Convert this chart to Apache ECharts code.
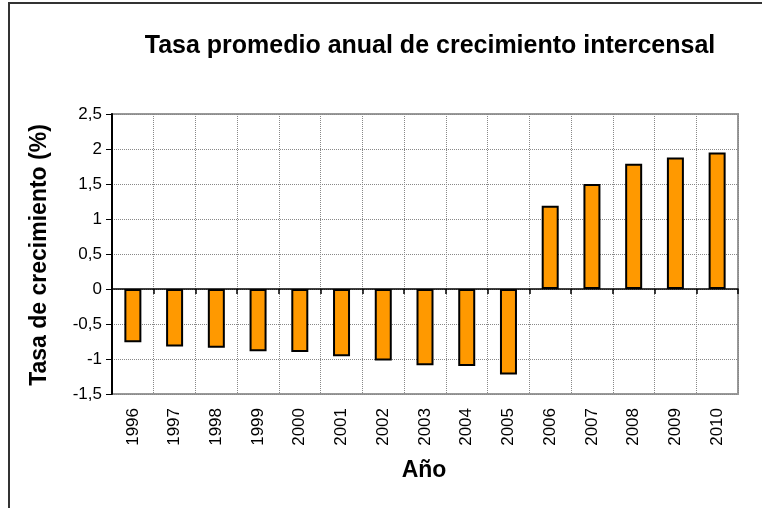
<!DOCTYPE html>
<html>
<head>
<meta charset="utf-8">
<script src="https://cdn.jsdelivr.net/npm/echarts@6/dist/echarts.min.js"></script>
<style>
html,body{margin:0;padding:0;background:#fff;}
#c{width:762px;height:508px;}
</style>
</head>
<body>
<div id="c"></div>
<script>
const categories = ['1996','1997','1998','1999','2000','2001','2002','2003','2004','2005','2006','2007','2008','2009','2010'];
const values = [-0.76,-0.82,-0.84,-0.89,-0.90,-0.96,-1.02,-1.09,-1.10,-1.22,1.19,1.50,1.79,1.88,1.95];
const yMin = -1.5, yMax = 2.5, yStep = 0.5;
const titleText = 'Tasa promedio anual de crecimiento intercensal';
const yTitle = 'Tasa de crecimiento (%)';
const xTitle = 'Año';

const FONT = '"Liberation Sans", Arial, sans-serif';
const chart = echarts.init(document.getElementById('c'), null, {renderer:'canvas'});
chart.setOption({
  animation:false,
  backgroundColor:'#fff',
  title:{
    text:titleText, left:425, top:29, textAlign:'center',
    textStyle:{fontFamily:FONT, fontSize:25, fontWeight:'bold', color:'#000'}
  },
  graphic:[
    {type:'rect', shape:{x:9, y:3, width:800, height:600}, style:{fill:null, stroke:'#333', lineWidth:2}, silent:true, z:-1},
    {type:'text', x:40, y:255, rotation:Math.PI/2, style:{text:yTitle, font:'bold 23px '+FONT, fill:'#000', align:'center', verticalAlign:'middle'}, silent:true},
    {type:'text', x:424, y:471, style:{text:xTitle, font:'bold 23px '+FONT, fill:'#000', align:'center', verticalAlign:'middle'}, silent:true}
  ],
  grid:{left:112, right:24, top:114, bottom:114, show:true, borderColor:'#999', borderWidth:2, backgroundColor:'transparent'},
  xAxis:[{
    type:'category', data:categories, position:'bottom',
    axisLine:{show:true, onZero:true, lineStyle:{color:'#000', width:1.5}},
    axisTick:{show:true, length:5, inside:false, alignWithLabel:false, lineStyle:{color:'#000', width:1.5}},
    axisLabel:{show:false},
    splitLine:{show:true, lineStyle:{color:'#888', type:'dotted', width:1}}
  },{
    type:'category', data:categories, position:'bottom',
    axisLine:{show:false, onZero:false},
    axisTick:{show:false},
    splitLine:{show:false},
    axisLabel:{show:true, rotate:90, margin:14, fontFamily:FONT, fontSize:17, color:'#000'}
  }],
  yAxis:{
    type:'value', min:yMin, max:yMax, interval:yStep,
    axisLine:{show:true, lineStyle:{color:'#000', width:2}},
    axisTick:{show:true, length:6, lineStyle:{color:'#000', width:1}},
    axisLabel:{margin:10, fontFamily:FONT, fontSize:17, color:'#000',
      formatter:v=>String(Math.round(v*10)/10).replace('.',',')},
    splitLine:{show:true, lineStyle:{color:'#888', type:'dotted', width:1}}
  },
  series:[{
    type:'bar', data:values, xAxisIndex:0, barWidth:17,
    itemStyle:{color:'#FF9900', borderColor:'#000', borderWidth:2}
  }]
});
</script>
</body>
</html>
